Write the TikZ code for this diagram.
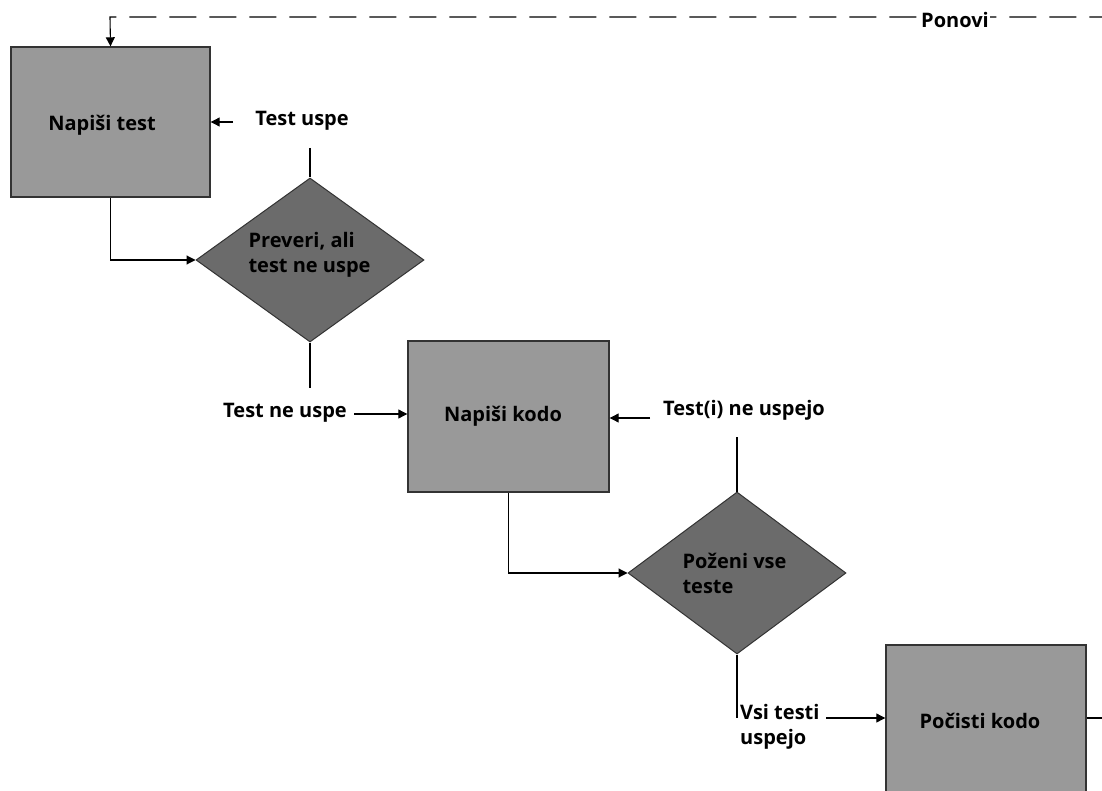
\documentclass[tikz,border=0pt]{standalone}
\usepackage{fontspec}
\setmainfont{Open Sans}
\usetikzlibrary{arrows.meta,shapes.geometric}
\definecolor{boxfill}{HTML}{999999}
\definecolor{diafill}{HTML}{6B6B6B}
\definecolor{edge}{HTML}{333333}
\begin{document}
\begin{tikzpicture}[x=1pt,y=-1pt,
  every node/.style={font=\bfseries\fontsize{20}{25}\selectfont, text=black},
  stepbox/.style={draw=edge, line width=1.4pt, fill=boxfill, minimum width=199pt, minimum height=150pt, inner sep=0pt},
  decbox/.style={diamond, draw=edge, line width=1pt, fill=diafill, minimum width=228pt, minimum height=164pt, inner sep=0pt},
  conn/.style={draw=black, line width=1.1pt},
  arr/.style={conn, -{Triangle[length=9pt,width=9pt]}},
  lbl/.style={inner sep=1pt}]
\useasboundingbox (0,0) rectangle (1102,791);
% boxes
\node[stepbox] (b1) at (110.5,122) {};
\node (t1) at (102,125) {Napiši test};
\node[stepbox, minimum width=201pt, minimum height=151pt] (b2) at (508.5,416.5) {};
\node (t2) at (503,416) {Napiši kodo};
\node[stepbox, minimum width=200pt, minimum height=160pt] (b3) at (986,725) {};
\node (t3) at (980,721) {Počisti kodo};
% diamonds
\node[decbox] (d1) at (310,260) {};
\node[align=left, anchor=west] (td1) at (245,255) {Preveri, ali\\test ne uspe};
\node[decbox, minimum width=218pt, minimum height=162pt] (d2) at (737,573) {};
\node[align=left, anchor=west] (td2) at (679,573) {Poženi vse\\teste};
% labels
\node[lbl] (l1) at (302,121) {Test uspe};
\node[lbl] (l2) at (285,413) {Test ne uspe};
\node[lbl] (l3) at (744,410) {Test(i) ne uspejo};
\node[lbl, align=left, anchor=north west] (l4) at (739,703) {Vsi testi\\uspejo};
% free ends
\coordinate (c1) at (233,122);
\coordinate (c2) at (310,148);
\coordinate (c3) at (310,388);
\coordinate (c4) at (354,414);
\coordinate (c5) at (650,418);
\coordinate (c6) at (737,437);
\coordinate (c7) at (737,718);
\coordinate (c8) at (826,718);
\coordinate (c9) at (1102,718);
\coordinate (c10) at (1102,17);
\coordinate (c11) at (110,17);
% connectors
\draw[arr] (c1) -- (c1 -| b1.east);
\draw[conn] (c2) -- (d1.north);
\draw[arr] (b1.south) |- (d1.west);
\draw[conn] (d1.south) -- (c3);
\draw[arr] (c4) -- (c4 -| b2.west);
\draw[arr] (c5) -- (c5 -| b2.east);
\draw[conn] (c6) -- (d2.north);
\draw[arr] (b2.south) |- (d2.west);
\draw[conn] (d2.south) -- (c7);
\draw[arr] (c8) -- (c8 -| b3.west);
\draw[conn] (c8 -| b3.east) -- (c9);
\draw[conn, {Triangle[length=9pt,width=9pt]}-, dash pattern=on 27pt off 13pt] (b1.north) -- (c11) -- (c10);
\node[fill=white, inner sep=1pt] (l5) at (955,20) {Ponovi};
\end{tikzpicture}
\end{document}
